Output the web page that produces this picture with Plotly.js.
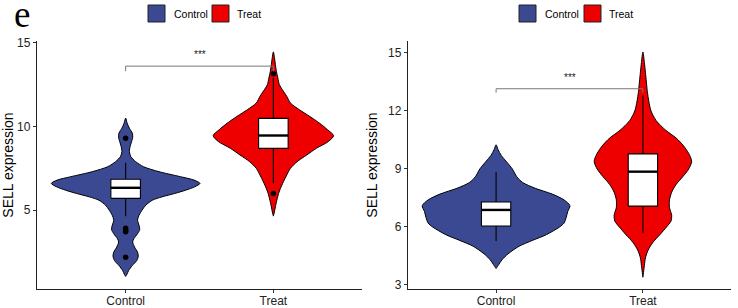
<!DOCTYPE html>
<html>
<head>
<meta charset="utf-8">
<script src="https://cdn.plot.ly/plotly-3.0.1.min.js"></script>
<style>html,body{margin:0;padding:0;background:#fff;}#chart{width:738px;height:308px;}</style>
</head>
<body>
<div id="chart"></div>
<script>
// ---------- data ----------
const categories = ['Control', 'Treat'];
const groupColors = ['#3B4992', '#EE0000'];

// Panel 1 (left) violin density profiles: expression level -> relative width
const leftControlLevels = [10.5,10.2,9.9,9.6,9.35,9.1,8.8,8.5,8.2,7.9,7.6,7.3,7.0,6.8,6.6,6.4,6.2,6.0,5.8,5.6,5.3,5.0,4.7,4.4,4.1,3.85,3.6,3.3,3.1,2.8,2.5,2.25,2.0,1.7,1.4,1.2,1.05];
const leftControlDensity = [0,0.02,0.05,0.09,0.095,0.08,0.06,0.05,0.07,0.135,0.24,0.45,0.74,0.92,1.0,0.93,0.81,0.66,0.49,0.36,0.27,0.22,0.18,0.16,0.18,0.19,0.16,0.11,0.095,0.12,0.16,0.17,0.15,0.09,0.04,0.02,0];
const leftTreatLevels = [14.45,14.1,13.7,13.3,12.9,12.5,12.2,11.8,11.4,11.0,10.6,10.2,9.8,9.45,9.1,8.7,8.3,7.9,7.5,7.1,6.7,6.3,6.0,5.6,5.2,4.9,4.65];
const leftTreatDensity = [0,0.015,0.027,0.04,0.06,0.08,0.12,0.18,0.23,0.35,0.49,0.62,0.73,0.81,0.74,0.58,0.45,0.32,0.23,0.18,0.135,0.095,0.07,0.047,0.027,0.014,0];

// Panel 1 box statistics [lowerfence, q1, median, q3, upperfence]
const leftControlBox = [4.64, 5.71, 6.34, 6.85, 7.84];
const leftTreatBox = [6.6, 8.69, 9.46, 10.48, 12.9];
const leftControlOutliers = [9.29, 3.93, 3.8, 3.72, 2.2];
const leftTreatOutliers = [13.15, 6.0];

// Panel 2 (right)
const rightControlLevels = [10.25,10.0,9.7,9.4,9.0,8.6,8.3,8.0,7.7,7.4,7.1,6.8,6.5,6.2,6.0,5.6,5.3,5.0,4.6,4.3,4.0,3.85];
const rightControlDensity = [0,0.027,0.07,0.135,0.22,0.28,0.36,0.53,0.76,0.92,1.0,0.97,0.95,0.92,0.86,0.68,0.49,0.31,0.16,0.08,0.027,0];
const rightTreatLevels = [15.05,14.5,14.0,13.5,13.0,12.5,12.0,11.5,11.0,10.6,10.2,9.8,9.4,9.0,8.6,8.2,7.8,7.4,7.0,6.6,6.3,6.0,5.6,5.2,4.8,4.4,4.0,3.4];
const rightTreatDensity = [0,0.02,0.034,0.047,0.06,0.08,0.11,0.18,0.31,0.45,0.55,0.62,0.66,0.62,0.54,0.45,0.39,0.36,0.36,0.39,0.38,0.32,0.23,0.135,0.07,0.034,0.02,0];

const rightControlBox = [5.27, 6.05, 6.88, 7.29, 8.84];
const rightTreatBox = [5.7, 7.08, 8.86, 9.78, 12.8];
const rightControlOutliers = [];
const rightTreatOutliers = [];

// significance
const significanceLabel = '***';
const leftBracketLevel = 13.6;
const rightBracketLevel = 13.15;

const leftTicks = [5, 10, 15];
const rightTicks = [3, 6, 9, 12, 15];
const yTitle = 'SELL expression';

// ---------- styling ----------
const FONT = 'Liberation Sans, Arial, sans-serif';
const maxHalfWidth = 0.503;   // x units for density 1
const boxWidth = 0.2;
const positions = [1, 2];

function violinTrace(center, levels, density, color, xa, ya) {
  const xs = [], ys = [];
  for (let i = 0; i < levels.length; i++) { xs.push(center + density[i] * maxHalfWidth); ys.push(levels[i]); }
  for (let i = levels.length - 1; i >= 0; i--) { xs.push(center - density[i] * maxHalfWidth); ys.push(levels[i]); }
  return {type: 'scatter', mode: 'lines', x: xs, y: ys, fill: 'toself', fillcolor: color,
          line: {color: '#000', width: 1, shape: 'spline', smoothing: 0.8},
          xaxis: xa, yaxis: ya, hoverinfo: 'skip', showlegend: false};
}
// box drawn from its statistics [lowerfence, q1, median, q3, upperfence]
function boxTraces(center, s, xa, ya) {
  const h = boxWidth / 2;
  return [
    {type: 'scatter', mode: 'lines', x: [center, center, null, center, center], y: [s[0], s[1], null, s[3], s[4]],
     line: {color: '#000', width: 1.1}, xaxis: xa, yaxis: ya, hoverinfo: 'skip', showlegend: false},
    {type: 'scatter', mode: 'lines', x: [center - h, center + h, center + h, center - h, center - h],
     y: [s[1], s[1], s[3], s[3], s[1]], fill: 'toself', fillcolor: '#fff',
     line: {color: '#000', width: 1.1}, xaxis: xa, yaxis: ya, hoverinfo: 'skip', showlegend: false},
    {type: 'scatter', mode: 'lines', x: [center - h, center + h], y: [s[2], s[2]],
     line: {color: '#000', width: 2.4}, xaxis: xa, yaxis: ya, hoverinfo: 'skip', showlegend: false}
  ];
}
function outlierTrace(center, vals, xa, ya) {
  return {type: 'scatter', mode: 'markers', x: vals.map(() => center), y: vals,
          marker: {color: '#000', size: 5.5}, xaxis: xa, yaxis: ya, hoverinfo: 'skip', showlegend: false};
}
function bracketTrace(level, drop, xa, ya) {
  return {type: 'scatter', mode: 'lines', x: [positions[0], positions[0], positions[1], positions[1]],
          y: [level - drop, level, level, level - drop], line: {color: '#777', width: 1},
          xaxis: xa, yaxis: ya, hoverinfo: 'skip', showlegend: false};
}

const traces = [].concat(
  violinTrace(positions[0], leftControlLevels, leftControlDensity, groupColors[0], 'x', 'y'),
  violinTrace(positions[1], leftTreatLevels, leftTreatDensity, groupColors[1], 'x', 'y'),
  boxTraces(positions[0], leftControlBox, 'x', 'y'),
  boxTraces(positions[1], leftTreatBox, 'x', 'y'),
  outlierTrace(positions[0], leftControlOutliers, 'x', 'y'),
  outlierTrace(positions[1], leftTreatOutliers, 'x', 'y'),
  bracketTrace(leftBracketLevel, 0.3, 'x', 'y'),
  violinTrace(positions[0], rightControlLevels, rightControlDensity, groupColors[0], 'x2', 'y2'),
  violinTrace(positions[1], rightTreatLevels, rightTreatDensity, groupColors[1], 'x2', 'y2'),
  boxTraces(positions[0], rightControlBox, 'x2', 'y2'),
  boxTraces(positions[1], rightTreatBox, 'x2', 'y2'),
  outlierTrace(positions[0], rightControlOutliers, 'x2', 'y2'),
  outlierTrace(positions[1], rightTreatOutliers, 'x2', 'y2'),
  bracketTrace(rightBracketLevel, 0.2, 'x2', 'y2')
);

const W = 738, H = 308;
const px = v => v / W, py = v => 1 - v / H;

const axisCommon = {showline: true, linecolor: '#222', linewidth: 1.2, ticks: 'outside', ticklen: 3,
  tickcolor: '#333', tickwidth: 1, showgrid: false, zeroline: false, fixedrange: true,
  tickfont: {family: FONT, size: 12, color: '#222'}};

const xaxisBase = Object.assign({}, axisCommon, {range: [0.4, 2.6], tickmode: 'array', tickvals: positions,
  ticktext: categories, ticklabelstandoff: -3});

const layout = {
  width: W, height: H, margin: {l: 0, r: 0, t: 0, b: 0}, paper_bgcolor: '#fff', plot_bgcolor: '#fff',
  showlegend: false, font: {family: FONT},
  xaxis: Object.assign({}, xaxisBase, {domain: [px(37), px(362)], anchor: 'y'}),
  xaxis2: Object.assign({}, xaxisBase, {domain: [px(408), px(731)], anchor: 'y2'}),
  yaxis: Object.assign({}, axisCommon, {domain: [1 - 289 / H, 1 - 41 / H], range: [0.3, 15.1], tickmode: 'array', tickvals: leftTicks, anchor: 'x',
    title: {text: yTitle, font: {family: FONT, size: 14, color: '#000'}, standoff: 4}}),
  yaxis2: Object.assign({}, axisCommon, {domain: [1 - 289 / H, 1 - 41 / H], range: [2.79, 15.62], tickmode: 'array', tickvals: rightTicks, anchor: 'x2',
    title: {text: yTitle, font: {family: FONT, size: 14, color: '#000'}, standoff: 7}}),
  annotations: [
    {xref: 'paper', yref: 'paper', x: px(12), y: py(14), xanchor: 'left', yanchor: 'middle', height: 26, valign: 'middle',
     text: 'e', showarrow: false, font: {family: 'Liberation Serif, Times New Roman, serif', size: 37, color: '#000'}},
    {xref: 'x', yref: 'y', x: 1.5, y: leftBracketLevel + 0.25, yanchor: 'bottom', text: significanceLabel, showarrow: false,
     font: {family: FONT, size: 10, color: '#222'}},
    {xref: 'x2', yref: 'y2', x: 1.5, y: rightBracketLevel + 0.2, yanchor: 'bottom', text: significanceLabel, showarrow: false,
     font: {family: FONT, size: 10, color: '#222'}}
  ],
  shapes: []
};

// legends (one per panel)
const legendKeys = [[148, 212], [519, 584]];
const legendTexts = [[172, 235], [543, 607]];
for (let p = 0; p < 2; p++) {
  for (let g = 0; g < 2; g++) {
    const x0 = legendKeys[p][g];
    layout.shapes.push({type: 'rect', xref: 'paper', yref: 'paper', x0: px(x0), x1: px(x0 + 17), y0: py(22), y1: py(5),
      fillcolor: groupColors[g], line: {color: '#222', width: 1}});
    layout.annotations.push({xref: 'paper', yref: 'paper', x: px(legendTexts[p][g]), y: py(14), xanchor: 'left', yanchor: 'middle',
      text: categories[g], showarrow: false, font: {family: FONT, size: 10.5, color: '#000'}});
  }
}

Plotly.newPlot('chart', traces, layout, {displayModeBar: false, staticPlot: true});
</script>
</body>
</html>
